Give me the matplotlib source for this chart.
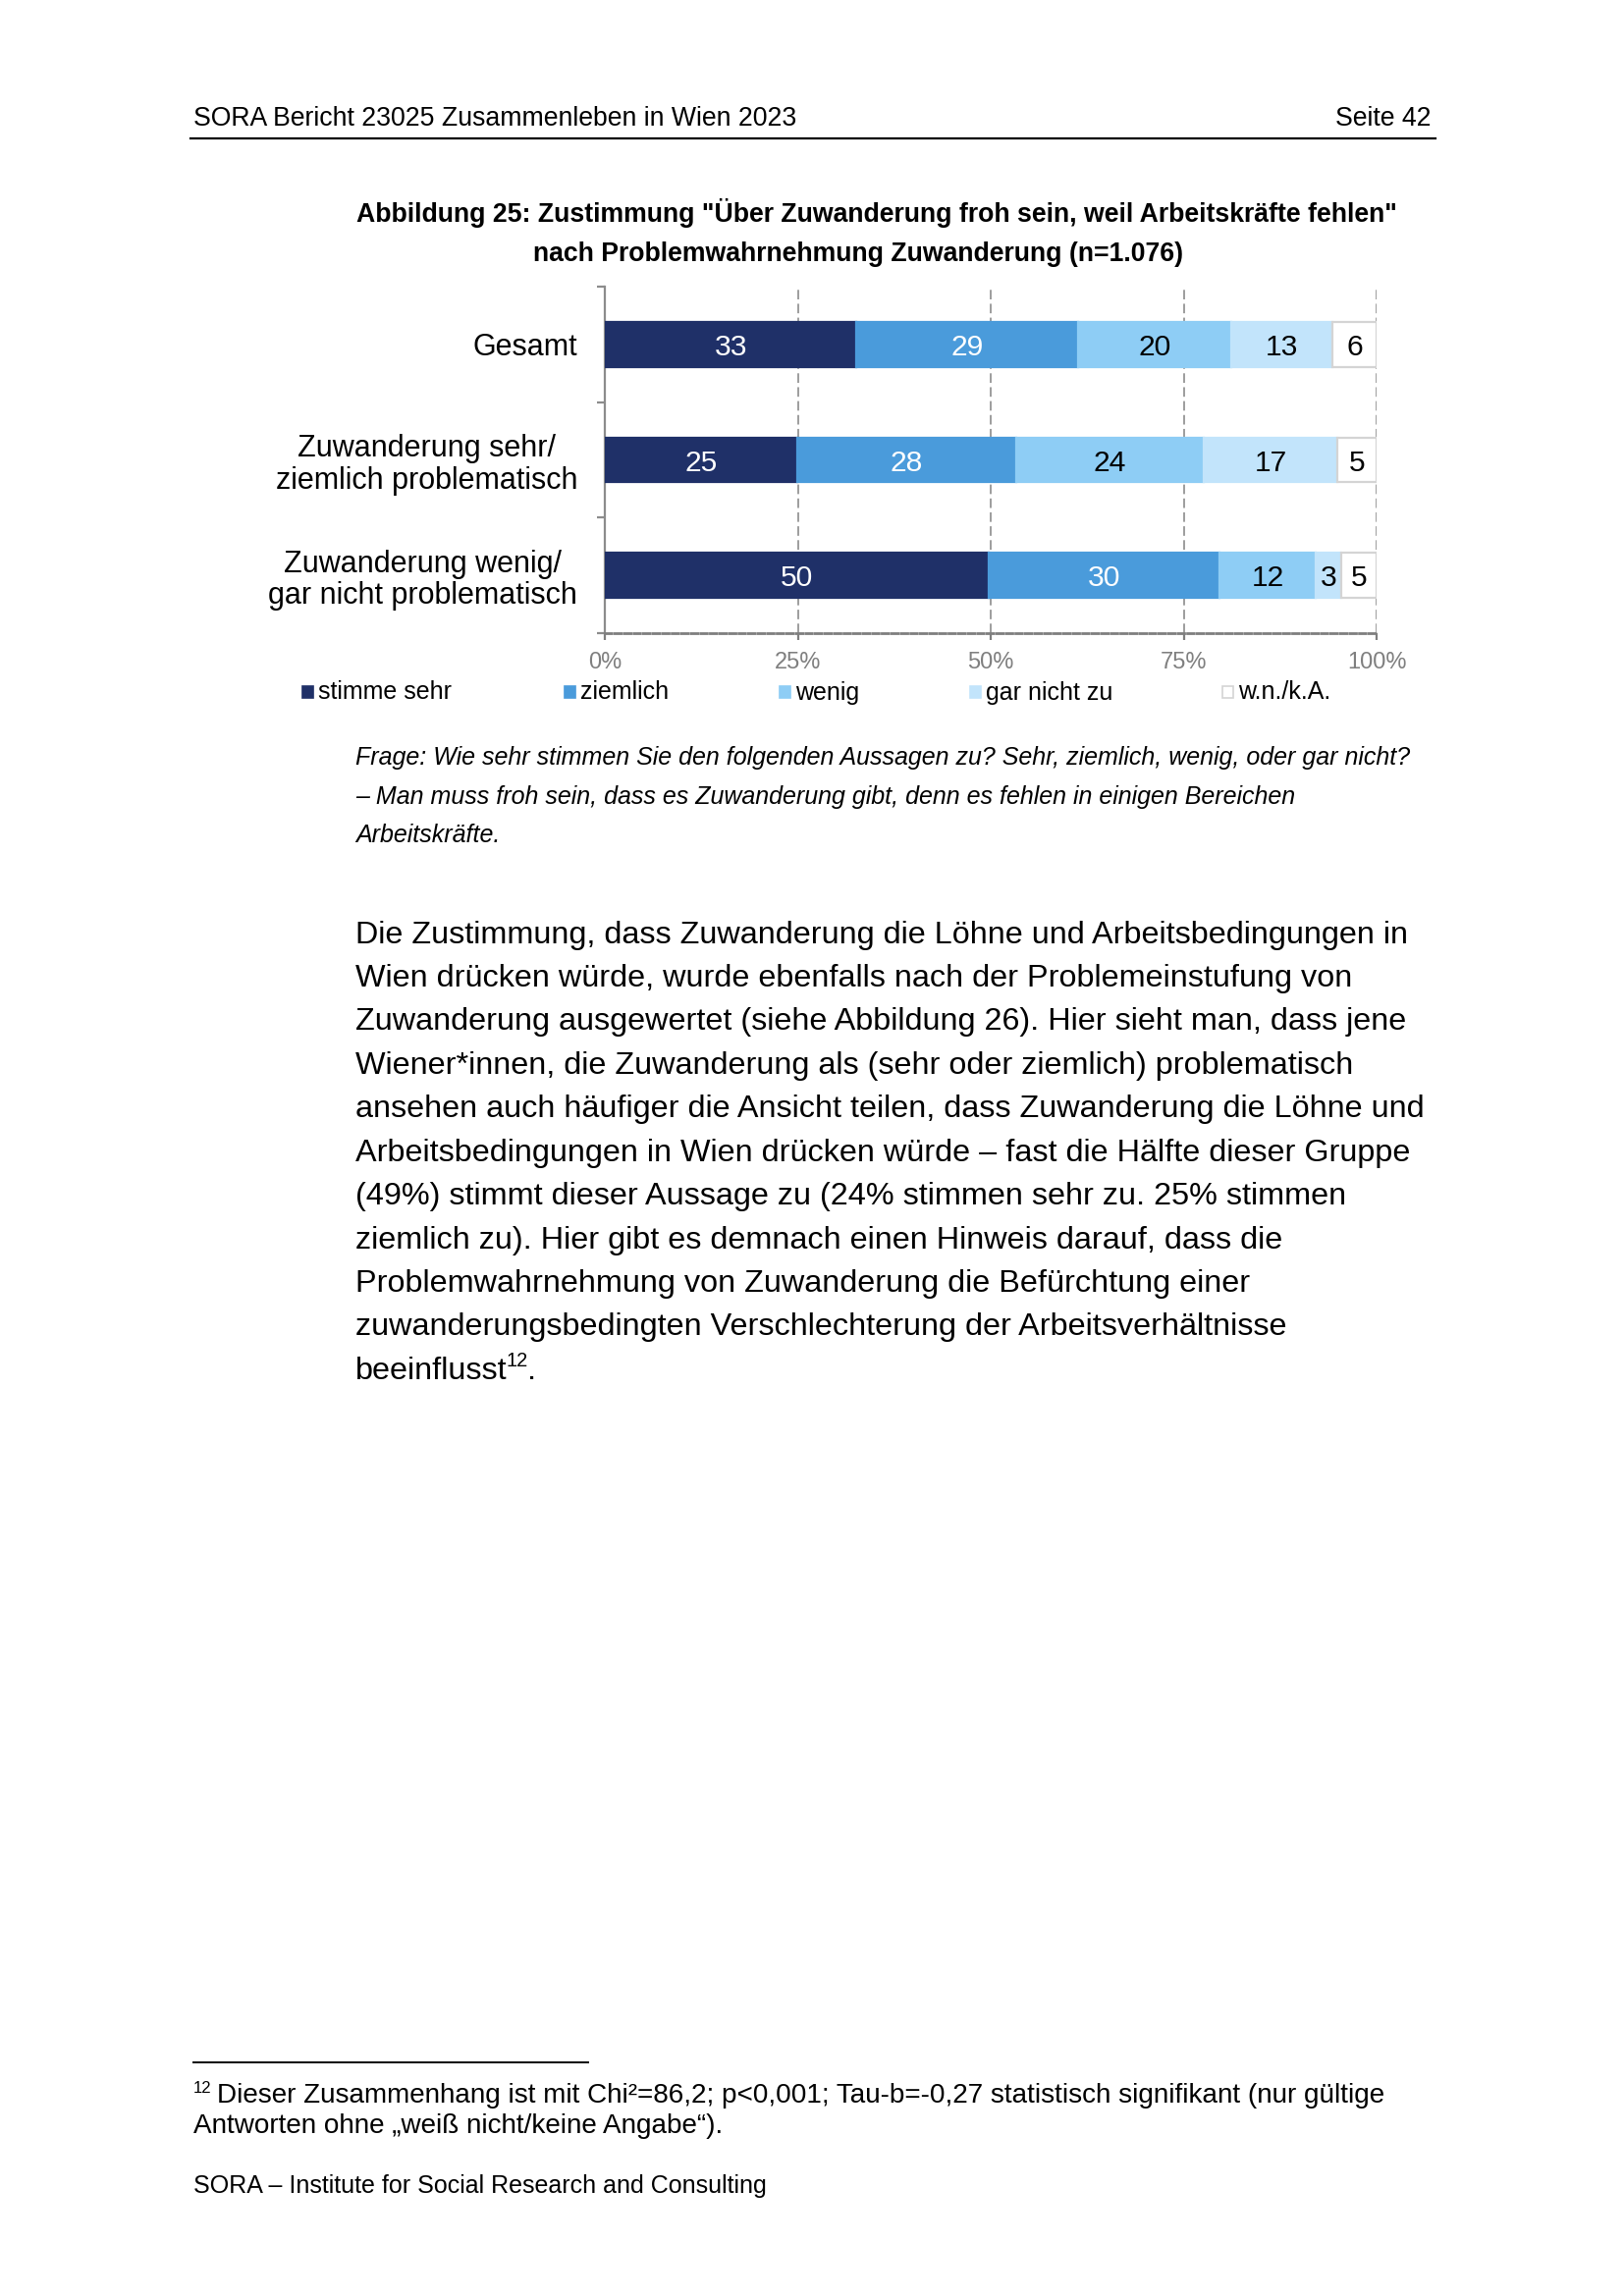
import matplotlib
matplotlib.use("Agg")
import matplotlib.pyplot as plt
from matplotlib.patches import Rectangle
from matplotlib.lines import Line2D
import numpy as np

plt.rcParams['font.family'] = ['Liberation Sans', 'DejaVu Sans']
plt.rcParams['lines.scale_dashes'] = False

# ---------------- data ----------------
categories = ["Gesamt",
              "Zuwanderung sehr/\nziemlich problematisch",
              "Zuwanderung wenig/\ngar nicht problematisch"]
series_names = ["stimme sehr", "ziemlich", "wenig", "gar nicht zu", "w.n./k.A."]
stimme_sehr = [32.6, 24.9, 49.7]
ziemlich = [28.7, 28.4, 30.0]
wenig = [19.9, 24.3, 12.4]
gar_nicht_zu = [13.1, 17.3, 3.3]
wn_ka = [5.7, 5.1, 4.6]
x_ticks = [0, 25, 50, 75, 100]
x_tick_labels = ["0%", "25%", "50%", "75%", "100%"]

series = [stimme_sehr, ziemlich, wenig, gar_nicht_zu, wn_ka]
colors = ["#1F3068", "#4A9BDB", "#8ECDF5", "#C2E4FB", "#FFFFFF"]
text_colors = ["white", "white", "black", "black", "black"]

# ---------------- page setup ----------------
W, H, DPI = 1654, 2339, 200
fig = plt.figure(figsize=(W / DPI, H / DPI), dpi=DPI)
fig.patch.set_facecolor("white")
renderer = fig.canvas.get_renderer()


def fx(x):
    return x / W


def fy(y):
    return 1 - y / H


def width_px(s, size, **kw):
    t = fig.text(0, 0, s, fontsize=size, **kw)
    w = t.get_window_extent(renderer).width
    t.remove()
    return w


def calib(s, target, size=10, **kw):
    return size * target / width_px(s, size, **kw)


# ---------------- header ----------------
head_fs = calib("SORA Bericht 23025 Zusammenleben in Wien 2023", 614)
fig.text(fx(197), fy(128), "SORA Bericht 23025 Zusammenleben in Wien 2023",
         fontsize=head_fs, va="baseline", ha="left")
fig.text(fx(1457), fy(128), "Seite 42", fontsize=head_fs, va="baseline", ha="right")
fig.add_artist(Line2D([fx(194), fx(1462)], [fy(140.5), fy(140.5)], color="black", lw=0.8))

# ---------------- title ----------------
title1 = 'Abbildung 25: Zustimmung "Über Zuwanderung froh sein, weil Arbeitskräfte fehlen"'
title2 = "nach Problemwahrnehmung Zuwanderung (n=1.076)"
title_fs = calib(title1, 1062, weight="bold")
fig.text(fx(893), fy(226.5), title1, fontsize=title_fs, weight="bold", ha="center", va="baseline")
fig.text(fx(874), fy(266.5), title2, fontsize=title_fs, weight="bold", ha="center", va="baseline")

# ---------------- chart ----------------
ax_left, ax_right, ax_top, ax_bot = 616, 1402, 292, 645
ax = fig.add_axes([fx(ax_left), fy(ax_bot), (ax_right - ax_left) / W, (ax_bot - ax_top) / H])
ax.set_facecolor("none")

y = np.arange(len(categories))
left = np.zeros(len(categories))
bar_h = 0.39
for vals, col, tcol in zip(series, colors, text_colors):
    vals = np.array(vals)
    edge = "#D4D4D4" if col == "#FFFFFF" else col
    ax.barh(y, vals, left=left, height=bar_h, color=col, edgecolor=edge,
            linewidth=0.8, zorder=3)
    for yi, (l, v) in enumerate(zip(left, vals)):
        ax.text(l + v / 2, yi, f"{round(v):d}", ha="center", va="center_baseline",
                color=tcol, fontsize=10.8, zorder=4)
    left += vals

ax.set_xlim(0, 100)
ax.set_ylim(len(categories) - 0.5, -0.5)

for xt in x_ticks[1:]:
    ax.axvline(xt, color="#8C8C8C", lw=0.6, linestyle=(0, (3.5, 1.6)), zorder=1)

for s in ["top", "right"]:
    ax.spines[s].set_visible(False)
ax.spines["left"].set_color("#8C8C8C")
ax.spines["left"].set_linewidth(0.8)
ax.spines["bottom"].set_color("#7F7F7F")
ax.spines["bottom"].set_linewidth(1.0)
ax.spines["bottom"].set_linestyle((0, (2.4, 1.1)))

ax.set_xticks(x_ticks)
ax.set_xticklabels(x_tick_labels)
ax.tick_params(axis="x", direction="out", length=2.5, width=0.8, color="#7F7F7F",
               labelcolor="#7F7F7F", labelsize=8.5, pad=4.5)

ax.set_yticks(y)
ax.set_yticklabels(categories, fontsize=11, ha="right", multialignment="center",
                   linespacing=1.12)
ax.set_yticks(np.arange(-0.5, len(categories), 1.0), minor=True)
ax.tick_params(axis="y", which="major", length=0, pad=10)
ax.tick_params(axis="y", which="minor", direction="out", length=3, width=0.8, color="#8C8C8C")

# ---------------- legend ----------------
leg_x = [308, 575, 794, 988, 1245]
for xl, name, col in zip(leg_x, series_names, colors):
    edge = "#D4D4D4" if col == "#FFFFFF" else col
    fig.add_artist(Rectangle((fx(xl), fy(711)), 11 / W, 12 / H, facecolor=col,
                             edgecolor=edge, lw=0.6, transform=fig.transFigure))
    fig.text(fx(xl + 16), fy(712.5), name, fontsize=9, va="baseline", ha="left")

# ---------------- caption ----------------
cap_lines = ["Frage: Wie sehr stimmen Sie den folgenden Aussagen zu? Sehr, ziemlich, wenig, oder gar nicht?",
             "– Man muss froh sein, dass es Zuwanderung gibt, denn es fehlen in einigen Bereichen",
             "Arbeitskräfte."]
cap_fs = calib(cap_lines[0], 1074, style="italic")
for i, line in enumerate(cap_lines):
    fig.text(fx(362), fy(779.5 + 39 * i), line, fontsize=cap_fs, style="italic",
             va="baseline", ha="left")

# ---------------- body text ----------------
body = ["Die Zustimmung, dass Zuwanderung die Löhne und Arbeitsbedingungen in",
        "Wien drücken würde, wurde ebenfalls nach der Problemeinstufung von",
        "Zuwanderung ausgewertet (siehe Abbildung 26). Hier sieht man, dass jene",
        "Wiener*innen, die Zuwanderung als (sehr oder ziemlich) problematisch",
        "ansehen auch häufiger die Ansicht teilen, dass Zuwanderung die Löhne und",
        "Arbeitsbedingungen in Wien drücken würde – fast die Hälfte dieser Gruppe",
        "(49%) stimmt dieser Aussage zu (24% stimmen sehr zu. 25% stimmen",
        "ziemlich zu). Hier gibt es demnach einen Hinweis darauf, dass die",
        "Problemwahrnehmung von Zuwanderung die Befürchtung einer",
        "zuwanderungsbedingten Verschlechterung der Arbeitsverhältnisse",
        "beeinflusst"]
body_fs = calib(body[4], 1086)
last_t = None
for i, line in enumerate(body):
    last_t = fig.text(fx(362), fy(960.7 + 44.4 * i), line, fontsize=body_fs,
                      va="baseline", ha="left")
by = 960.7 + 44.4 * (len(body) - 1)
bb = last_t.get_window_extent(renderer)
sup = fig.text((bb.x1 - 1.5) / W, fy(by - 13), "12", fontsize=body_fs * 0.62,
               va="baseline", ha="left")
bb2 = sup.get_window_extent(renderer)
fig.text((bb2.x1 - 0.5) / W, fy(by), ".", fontsize=body_fs, va="baseline", ha="left")

# ---------------- footnote ----------------
fig.add_artist(Line2D([fx(197), fx(599)], [fy(2101), fy(2101)], color="black", lw=0.7))
fn1 = "Dieser Zusammenhang ist mit Chi²=86,2; p<0,001; Tau-b=-0,27 statistisch signifikant (nur gültige"
fn2 = "Antworten ohne „weiß nicht/keine Angabe“)."
fn_fs = calib(fn1, 1188)
fig.text(fx(197), fy(2141.5 - 9), "12", fontsize=fn_fs * 0.6, va="baseline", ha="left")
fig.text(fx(221), fy(2141.5), fn1, fontsize=fn_fs, va="baseline", ha="left")
fig.text(fx(197), fy(2173), fn2, fontsize=fn_fs, va="baseline", ha="left")

foot = "SORA – Institute for Social Research and Consulting"
foot_fs = calib(foot, 583)
fig.text(fx(197), fy(2234), foot, fontsize=foot_fs, va="baseline", ha="left")

fig.savefig("out.png", dpi=DPI)
